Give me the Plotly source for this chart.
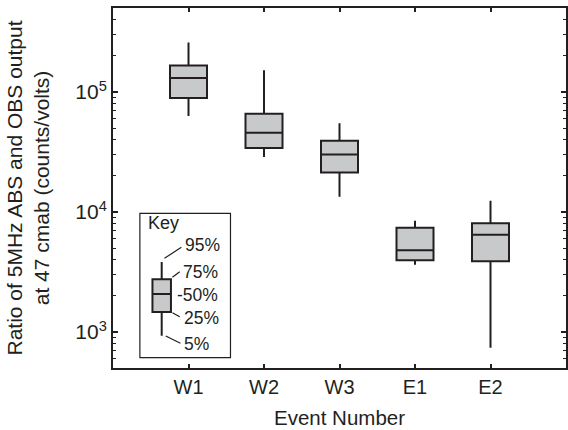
import plotly.graph_objects as go

# ---- data ----
events = ["W1", "W2", "W3", "E1", "E2"]
event_pos = [1, 2, 3, 4, 5]
p5 = [63000, 28700, 13400, 3640, 740]
p25 = [89000, 34100, 21300, 3960, 3880]
p50 = [131000, 45800, 30100, 4800, 6470]
p75 = [166000, 65900, 39300, 7400, 8050]
p95 = [258000, 152000, 54800, 8470, 12400]

# key (legend) example box
key_pos = [0.645]
key_p5 = [931]
key_p25 = [1468]
key_p50 = [2073]
key_p75 = [2748]
key_p95 = [3830]
key_labels = ["95%", "75%", "-50%", "25%", "5%"]

ytick_vals = [1e3, 1e4, 1e5]
ytick_text = ["10<sup>3</sup>", "10<sup>4</sup>", "10<sup>5</sup>"]

LINE = "#231f20"
FILL = "#c8c9cb"
FONT = "Liberation Sans, Arial, sans-serif"

fig = go.Figure()
fig.add_trace(go.Box(
    x=event_pos, q1=p25, median=p50, q3=p75, lowerfence=p5, upperfence=p95,
    width=0.49, whiskerwidth=0, fillcolor=FILL,
    line=dict(color=LINE, width=2), boxpoints=False, showlegend=False,
    hoverinfo="skip"))
fig.add_trace(go.Box(
    x=key_pos, q1=key_p25, median=key_p50, q3=key_p75, lowerfence=key_p5,
    upperfence=key_p95, width=0.245, whiskerwidth=0, fillcolor=FILL,
    line=dict(color=LINE, width=2), boxpoints=False, showlegend=False,
    hoverinfo="skip"))

W, H = 568, 430
L, R, T, B = 113, 0, 8, 62
pw, ph = W - L - R, H - T - B

def px(x):
    return (x - L) / pw

def py(y):
    return (H - B - y) / ph

shapes = [
    dict(type="rect", xref="paper", yref="paper", x0=px(140), x1=px(231),
         y0=py(357.7), y1=py(213.3), line=dict(color=LINE, width=1.2)),
]
leaders = [((164.7, 258.3), (181.7, 247.3)),
           ((172.7, 277.3), (180.0, 271.7)),
           ((172.7, 312.7), (180.0, 316.7)),
           ((166.0, 336.0), (180.7, 343.3))]
for (a, b) in leaders:
    shapes.append(dict(type="line", xref="paper", yref="paper",
                       x0=px(a[0]), y0=py(a[1]), x1=px(b[0]), y1=py(b[1]),
                       line=dict(color=LINE, width=1.2)))

annotations = [dict(text="Key", xref="paper", yref="paper", x=px(146), y=py(223),
                    xanchor="left", yanchor="middle", showarrow=False,
                    font=dict(size=18, color=LINE, family=FONT))]
label_xy = [(183, 245), (181.5, 271.7), (175, 295), (182.5, 317.7), (182.5, 344)]
for lab, (x, y) in zip(key_labels, label_xy):
    annotations.append(dict(text=lab, xref="paper", yref="paper", x=px(x), y=py(y),
                            xanchor="left", yanchor="middle", showarrow=False,
                            font=dict(size=17.5, color=LINE, family=FONT)))

fig.update_layout(
    width=W, height=H, margin=dict(l=L, r=R, t=T, b=B),
    paper_bgcolor="white", plot_bgcolor="white",
    font=dict(family=FONT, size=21, color=LINE),
    boxmode="overlay", showlegend=False,
    shapes=shapes, annotations=annotations,
    xaxis=dict(range=[0, 6], tickvals=event_pos, ticktext=events,
               ticks="inside", ticklen=4, tickwidth=1.5, tickcolor=LINE,
               showline=True, linewidth=2, linecolor=LINE, mirror="ticks",
               showgrid=False, zeroline=False, tickfont=dict(size=20),
               title=dict(text="Event Number", font=dict(size=20.5), standoff=14)),
    yaxis=dict(type="log", range=[2.7, 5.7], tickvals=ytick_vals, ticktext=ytick_text,
               ticks="inside", ticklen=5, tickwidth=1.5, tickcolor=LINE,
               showline=True, linewidth=2, linecolor=LINE, mirror="ticks",
               showgrid=False, zeroline=False, tickfont=dict(size=21),
               minor=dict(ticks="inside", ticklen=3, tickwidth=1, tickcolor=LINE,
                          dtick="D1", showgrid=False),
               title=dict(text="Ratio of 5MHz ABS and OBS output<br>at 47 cmab (counts/volts)",
                          font=dict(size=21), standoff=20)),
)

fig.write_html("out.html")
